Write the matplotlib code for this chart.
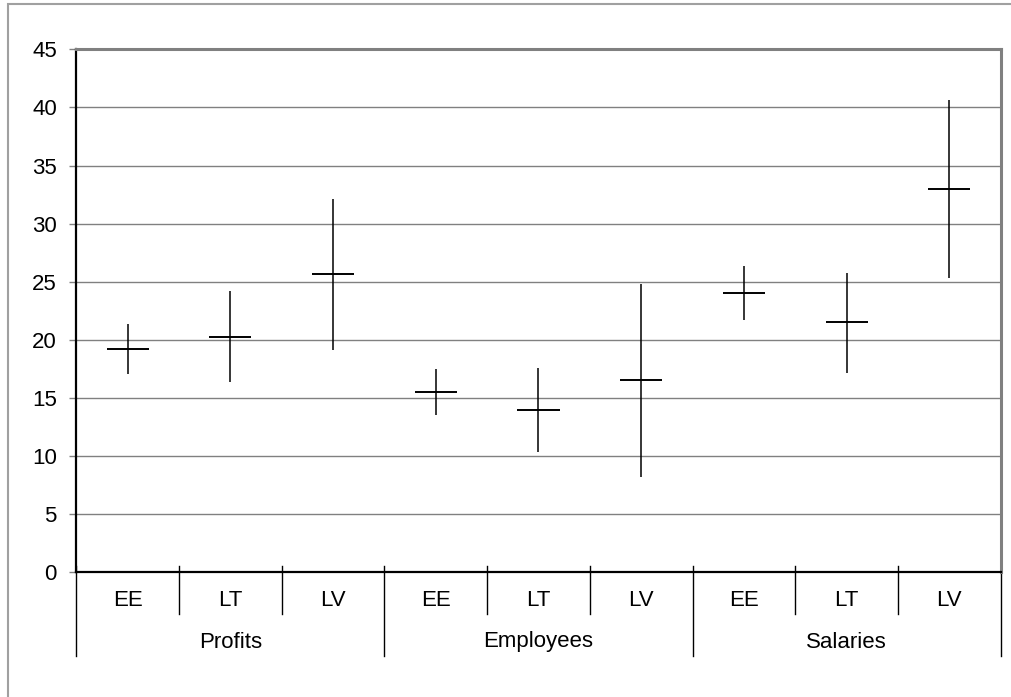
import matplotlib
matplotlib.use("Agg")
import matplotlib.pyplot as plt
from matplotlib.transforms import blended_transform_factory
from matplotlib.patches import Rectangle

plt.rcParams['font.family'] = ['Liberation Sans', 'DejaVu Sans']

# categories (country) within groups (measure)
groups = ['Profits', 'Employees', 'Salaries']
countries = ['EE', 'LT', 'LV']

# high / low / close for each of the nine columns
highs = [21.37, 24.2, 32.13, 17.5, 17.58, 24.81, 26.36, 25.76, 40.65]
lows = [17.09, 16.4, 19.1, 13.56, 10.38, 8.23, 21.74, 17.18, 25.35]
closes = [19.2, 20.25, 25.64, 15.49, 13.97, 16.55, 24.04, 21.51, 32.96]

fig = plt.figure(figsize=(10.12, 6.97), dpi=100)
ax = fig.add_axes([0.0754, 0.1789, 0.9134, 0.7504])

# outer chart frame (partly cut off at right/bottom)
fig.patches.append(Rectangle((8 / 1012, -0.1), 1.2, 1.1 - 4.3 / 697,
                             transform=fig.transFigure, fill=False,
                             edgecolor='#a0a0a0', linewidth=1.5))

n = len(highs)
xs = list(range(n))
ax.vlines(xs, lows, highs, colors='black', linewidth=1.1, zorder=3)
ax.hlines(closes, [x - 0.205 for x in xs], [x + 0.205 for x in xs],
          colors='black', linewidth=1.4, zorder=3)

ax.set_xlim(-0.5, n - 0.5)
ax.set_ylim(0, 45)
ax.set_yticks(range(0, 46, 5))
ax.set_xticks([])
ax.yaxis.grid(True, color='#808080', linewidth=1)
ax.set_axisbelow(True)
ax.tick_params(axis='y', direction='out', length=5, width=1, color='#808080',
               pad=9, labelsize=16)

for side in ['top', 'right']:
    ax.spines[side].set_color('#808080')
    ax.spines[side].set_linewidth(2.2)
for side in ['left', 'bottom']:
    ax.spines[side].set_color('black')
    ax.spines[side].set_linewidth(1.6)

# two-level category axis
tr = blended_transform_factory(ax.transData, fig.transFigure)
y_top = 1 - 566 / 697
y_mid = 1 - 614 / 697
y_bot = 1 - 656 / 697
for i in range(n + 1):
    xb = i - 0.5
    y_end = y_bot if i % 3 == 0 else y_mid
    ax.plot([xb, xb], [y_top, y_end], transform=tr, color='black',
            linewidth=1, clip_on=False)

for i in range(n):
    ax.text(i, 1 - 601 / 697, countries[i % 3], transform=tr,
            ha='center', va='center', fontsize=16)
for g, name in enumerate(groups):
    ax.text(g * 3 + 1, 1 - 642 / 697, name, transform=tr,
            ha='center', va='center', fontsize=16)

fig.savefig('out.png', dpi=100)
